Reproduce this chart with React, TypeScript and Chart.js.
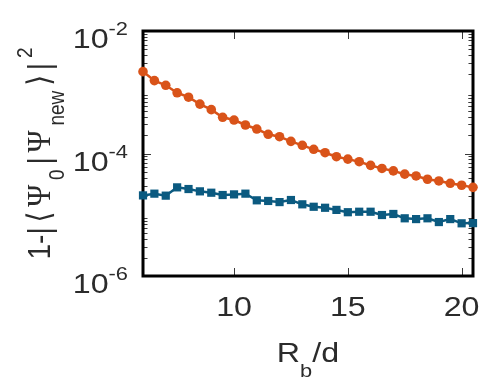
import React, { useEffect, useRef } from "react";
import { Chart, registerables } from "chart.js";

Chart.register(...registerables);

const xValues = [6, 6.5, 7, 7.5, 8, 8.5, 9, 9.5, 10, 10.5, 11, 11.5, 12, 12.5, 13, 13.5, 14, 14.5, 15, 15.5, 16, 16.5, 17, 17.5, 18, 18.5, 19, 19.5, 20, 20.5];
const orangeValues = [2.17e-3, 1.55e-3, 1.3e-3, 9.8e-4, 8.3e-4, 6.4e-4, 5.2e-4, 3.9e-4, 3.52e-4, 2.92e-4, 2.51e-4, 2.06e-4, 1.88e-4, 1.58e-4, 1.36e-4, 1.17e-4, 1.03e-4, 8.87e-5, 8.1e-5, 7.35e-5, 6.4e-5, 5.7e-5, 5.2e-5, 4.6e-5, 4.3e-5, 3.8e-5, 3.56e-5, 3.26e-5, 3.03e-5, 2.8e-5];
const blueValues = [2.07e-5, 2.21e-5, 2.05e-5, 2.8e-5, 2.63e-5, 2.41e-5, 2.29e-5, 2.1e-5, 2.15e-5, 2.21e-5, 1.72e-5, 1.68e-5, 1.61e-5, 1.74e-5, 1.48e-5, 1.35e-5, 1.3e-5, 1.2e-5, 1.1e-5, 1.12e-5, 1.12e-5, 9.9e-6, 1.03e-5, 8.75e-6, 8.5e-6, 8.75e-6, 7.6e-6, 8.5e-6, 7.25e-6, 7.3e-6];
const xTicks = [10, 15, 20];
const xTickLabels = ["10", "15", "20"];
const yTicks = [1e-6, 1e-4, 1e-2];
const yTickExponents = ["-6", "-4", "-2"];
const yMinorMultipliers = [2, 3, 4, 5, 6, 7, 8, 9];

const SANS = '"Liberation Sans", Arial, sans-serif';
const SERIF = '"Liberation Serif", "DejaVu Serif", serif';
const SYM = '"DejaVu Sans", sans-serif';
const TEXT_COLOR = "#2b2b2b";
const STRETCH = 1.15;

type Seg = { t: string; size: number; family?: string; dy?: number };

function segWidth(ctx: CanvasRenderingContext2D, s: Seg) {
  ctx.font = `${s.size}px ${s.family || SANS}`;
  return ctx.measureText(s.t).width;
}

function drawSegs(ctx: CanvasRenderingContext2D, segs: Seg[], startX: number) {
  let x = startX;
  for (const s of segs) {
    ctx.font = `${s.size}px ${s.family || SANS}`;
    ctx.fillText(s.t, x, s.dy || 0);
    x += ctx.measureText(s.t).width;
  }
}

const decorPlugin = {
  id: "decor",
  beforeDatasetsDraw(chart: any) {
    const ctx: CanvasRenderingContext2D = chart.ctx;
    const { left, right, top, bottom } = chart.chartArea;
    const xs = chart.scales.x;
    const ys = chart.scales.y;
    ctx.save();
    ctx.strokeStyle = "#3a3a3a";
    ctx.lineWidth = 1;
    ctx.beginPath();
    for (let i = 0; i < yTicks.length; i++) {
      const v = yTicks[i];
      const py = Math.round(ys.getPixelForValue(v)) + 0.5;
      ctx.moveTo(left, py); ctx.lineTo(left + 8, py);
      ctx.moveTo(right, py); ctx.lineTo(right - 8, py);
      if (i < yTicks.length - 1) {
        for (let d = v; d < yTicks[i + 1]; d *= 10) {
          for (const m of yMinorMultipliers) {
            const pm = Math.round(ys.getPixelForValue(d * m)) + 0.5;
            ctx.moveTo(left, pm); ctx.lineTo(left + 4.5, pm);
            ctx.moveTo(right, pm); ctx.lineTo(right - 4.5, pm);
          }
        }
      }
    }
    for (const v of xTicks) {
      const px = Math.round(xs.getPixelForValue(v)) + 0.5;
      ctx.moveTo(px, bottom); ctx.lineTo(px, bottom - 8);
      ctx.moveTo(px, top); ctx.lineTo(px, top + 8);
    }
    ctx.stroke();
    ctx.strokeStyle = "#000";
    ctx.lineWidth = 3;
    ctx.strokeRect(left, top, right - left, bottom - top);
    ctx.restore();
  },
  afterDraw(chart: any) {
    const ctx: CanvasRenderingContext2D = chart.ctx;
    const { left, right, bottom } = chart.chartArea;
    const xs = chart.scales.x;
    const ys = chart.scales.y;
    ctx.save();
    ctx.fillStyle = TEXT_COLOR;
    ctx.textBaseline = "alphabetic";
    ctx.textAlign = "left";
    for (let i = 0; i < xTicks.length; i++) {
      const px = xs.getPixelForValue(xTicks[i]);
      const w = segWidth(ctx, { t: xTickLabels[i], size: 28 }) * STRETCH;
      ctx.save();
      ctx.translate(px - w / 2, bottom + 40);
      ctx.scale(STRETCH, 1);
      drawSegs(ctx, [{ t: xTickLabels[i], size: 28 }], 0);
      ctx.restore();
    }
    for (let i = 0; i < yTicks.length; i++) {
      const py = ys.getPixelForValue(yTicks[i]);
      const segs: Seg[] = [
        { t: "10", size: 28, dy: 17 },
        { t: yTickExponents[i], size: 19, dy: 4 },
      ];
      const w = segs.reduce((a, s) => a + segWidth(ctx, s), 0) * STRETCH;
      ctx.save();
      ctx.translate(left - 15 - w, py);
      ctx.scale(STRETCH, 1);
      drawSegs(ctx, segs, 0);
      ctx.restore();
    }
    {
      const segs: Seg[] = [
        { t: "R", size: 28 },
        { t: "b", size: 19, dy: 15 },
        { t: "/d", size: 28 },
      ];
      const w = segs.reduce((a, s) => a + segWidth(ctx, s), 0) * STRETCH;
      const cx = (left + right) / 2;
      ctx.save();
      ctx.translate(cx - w / 2, bottom + 86);
      ctx.scale(STRETCH, 1);
      drawSegs(ctx, segs, 0);
      ctx.restore();
    }
    {
      const segs: Seg[] = [
        { t: "1-|", size: 28 },
        { t: "\u27E8", size: 28, family: SYM },
        { t: "\u03A8", size: 30, family: SERIF },
        { t: "0", size: 19, dy: 12 },
        { t: "|", size: 28 },
        { t: "\u03A8", size: 30, family: SERIF },
        { t: "new", size: 19, dy: 12 },
        { t: "\u27E9", size: 28, family: SYM },
        { t: "|", size: 28 },
        { t: "2", size: 19, dy: -16 },
      ];
      const natural = segs.reduce((a, s) => a + segWidth(ctx, s), 0);
      const target = 212;
      const gap = Math.max(0, (target - natural) / (segs.length - 1));
      const cy = (chart.chartArea.top + bottom) / 2;
      ctx.save();
      ctx.translate(50, cy);
      ctx.rotate(-Math.PI / 2);
      ctx.scale(1, STRETCH);
      let x = -target / 2;
      for (const s of segs) {
        ctx.font = `${s.size}px ${s.family || SANS}`;
        ctx.fillText(s.t, x, s.dy || 0);
        x += ctx.measureText(s.t).width + gap;
      }
      ctx.restore();
    }
    ctx.restore();
  },
};

export default function App() {
  const ref = useRef<HTMLCanvasElement | null>(null);
  useEffect(() => {
    document.body.style.margin = "0";
    const canvas = ref.current;
    if (!canvas) return;
    const chart = new Chart(canvas, {
      type: "line",
      data: {
        datasets: [
          {
            data: xValues.map((x, i) => ({ x, y: orangeValues[i] })),
            borderColor: "#D95319",
            backgroundColor: "#D95319",
            borderWidth: 2.5,
            pointStyle: "circle",
            pointRadius: 4.8,
            pointBorderWidth: 0,
            clip: false as any,
            tension: 0,
          },
          {
            data: xValues.map((x, i) => ({ x, y: blueValues[i] })),
            borderColor: "#0B5A80",
            backgroundColor: "#0B5A80",
            borderWidth: 2.5,
            pointStyle: "rect",
            pointRadius: 5.8,
            pointBorderWidth: 0,
            clip: false as any,
            tension: 0,
          },
        ],
      },
      options: {
        responsive: false,
        animation: false,
        layout: { padding: { left: 143, right: 25, top: 31, bottom: 107 } },
        plugins: { legend: { display: false }, tooltip: { enabled: false } },
        scales: {
          x: { type: "linear", min: 6, max: 20.5, display: false },
          y: { type: "logarithmic", min: 1e-6, max: 1e-2, display: false },
        },
      },
      plugins: [decorPlugin],
    });
    return () => chart.destroy();
  }, []);
  return <canvas ref={ref} width={498} height={383} style={{ display: "block" }} />;
}
